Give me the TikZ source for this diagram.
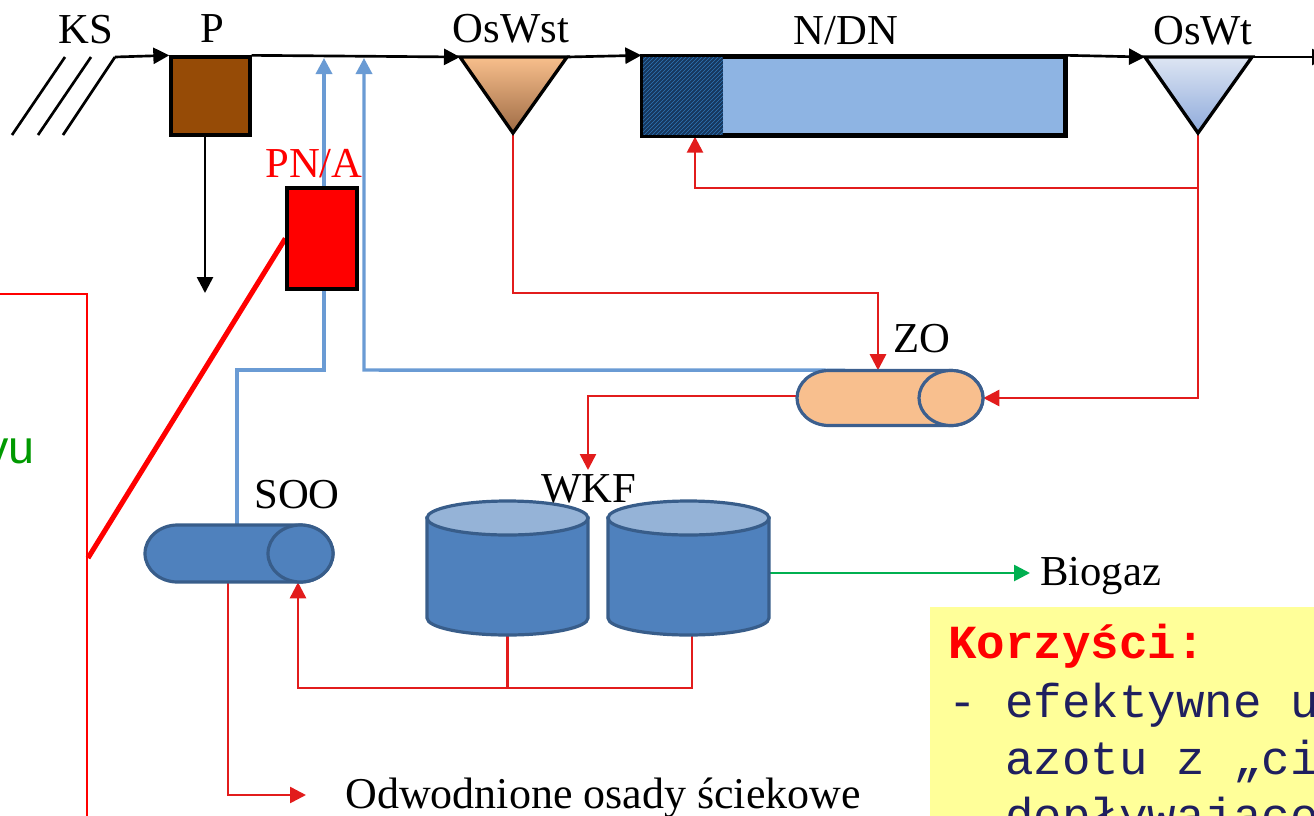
\documentclass[tikz,border=0pt]{standalone}
\usepackage{fontspec}
\setmainfont{Liberation Serif}
\newfontfamily\monofont{Liberation Mono}
\newfontfamily\sansf{Liberation Sans}
\usetikzlibrary{arrows.meta,patterns,calc}
\definecolor{cRed}{HTML}{E21C1C}
\definecolor{cBlue}{HTML}{6A9BD4}
\definecolor{cBrown}{HTML}{964B06}
\definecolor{cNDN}{HTML}{8EB4E3}
\definecolor{cNavy}{HTML}{17375E}
\definecolor{cHatch}{HTML}{2E75B6}
\definecolor{cPeach}{HTML}{F8BF8C}
\definecolor{cPeachD}{HTML}{9E6B45}
\definecolor{cSkyL}{HTML}{DDE5F3}
\definecolor{cSkyD}{HTML}{8EAADB}
\definecolor{cCylF}{HTML}{4F81BD}
\definecolor{cCylT}{HTML}{95B3D7}
\definecolor{cCylE}{HTML}{385D8A}
\definecolor{cZO}{HTML}{F8BF8E}
\definecolor{cZOE}{HTML}{3C5F8E}
\definecolor{cGreen}{HTML}{00B050}
\definecolor{cYel}{HTML}{FFFF99}
\definecolor{cText}{HTML}{1F1F5F}
\definecolor{cGreenT}{HTML}{009900}
\newdimen\upx \upx=0.75pt
\pgfdeclarelayer{bg}
\pgfsetlayers{bg,main}
\begin{document}
\begin{tikzpicture}[x=0.75pt,y=-0.75pt,
  lbl/.style={font=\fontsize{32}{38}\selectfont, inner sep=0pt, anchor=base},
  mono/.style={font=\monofont\fontsize{35.6}{42}\selectfont, text=cText, inner sep=0pt, anchor=base west},
  tip/.style={-{Triangle[width=12pt,length=12pt]}},
  flow/.style={line width=2pt, black, tip},
  redline/.style={line width=1.9pt, cRed},
  redflow/.style={redline, tip},
  blueflow/.style={line width=2.6pt, cBlue, tip},
  greenflow/.style={line width=2pt, cGreen, tip},
  box/.style={draw=black, line width=2.5pt, inner sep=0pt},
  cyl/.style={draw=cCylE, line width=2.4pt, fill=cCylF},
  holder/.style={inner sep=0pt, draw=none}
]
\clip (0,0) rectangle (1314,815);

% yellow box
\node[fill=cYel, inner sep=0pt, minimum width=400\upx, minimum height=230\upx, anchor=north west] (ybox) at (930,607) {};

% callout
\node[draw=red, line width=1.4pt, inner sep=0pt, minimum width=200\upx, minimum height=600\upx, anchor=north east] (call) at (88,293) {};
\node[font=\sansf\fontsize{35}{40}\selectfont, text=cGreenT, anchor=base east, inner sep=0pt] (vu) at (35,463) {vu};

% boxes
\node[box, fill=cBrown, minimum width=79\upx, minimum height=78\upx] (P) at (210.5,96) {};
\node[box, fill=red, minimum width=70\upx, minimum height=101\upx] (PNA) at (322,238.5) {};
\node[box, fill=cNDN, minimum width=422\upx, minimum height=78\upx] (NDN) at (854,96) {};
\fill[cNavy] (NDN.north west) rectangle (723,135);
\fill[pattern=north east lines, pattern color=cHatch] (NDN.north west) rectangle (723,135);
\draw[line width=2.5pt] (NDN.north west) rectangle (NDN.south east);

% triangles
\coordinate (owsL) at (460,57);
\coordinate (owsR) at (567,57);
\coordinate (owsT) at (513,133);
\coordinate (owtL) at (1145,57);
\coordinate (owtR) at (1252,57);
\coordinate (owtT) at (1198,133);
\draw[line width=2.5pt, top color=cPeach, bottom color=cPeachD, line join=miter] (owsL) -- (owsR) -- (owsT) -- cycle;
\draw[line width=2.5pt, top color=cSkyL, bottom color=cSkyD, line join=miter] (owtL) -- (owtR) -- (owtT) -- cycle;

% ZO cylinder (horizontal)
\node[holder, minimum width=186\upx, minimum height=55\upx] (ZO) at (890,398) {};
\path[draw=cZOE, line width=2.4pt, fill=cZO] (829,370.5) -- (951,370.5)
  arc[start angle=90,end angle=-90,x radius=24pt,y radius=20.625pt] -- (829,425.5)
  arc[start angle=270,end angle=90,x radius=24pt,y radius=20.625pt] -- cycle;
\draw[draw=cZOE, line width=2.4pt, fill=cZO] (951,398) ellipse [x radius=24pt, y radius=20.625pt];

% SOO cylinder (horizontal)
\node[holder, minimum width=188\upx, minimum height=57\upx] (SOO) at (239,553.5) {};
\path[cyl] (177.5,525) -- (300.5,525)
  arc[start angle=90,end angle=-90,x radius=24.375pt,y radius=21.375pt] -- (177.5,582)
  arc[start angle=270,end angle=90,x radius=24.375pt,y radius=21.375pt] -- cycle;
\draw[cyl] (300.5,553.5) ellipse [x radius=24.375pt, y radius=21.375pt];

% WKF cylinders (vertical)
\node[holder, minimum width=161\upx, minimum height=134\upx] (W1) at (507.5,568) {};
\node[holder, minimum width=161\upx, minimum height=134\upx] (W2) at (688.5,568) {};
\path[cyl] (427,518) -- (427,618) arc[start angle=180,end angle=360,x radius=60.375pt,y radius=12.75pt] -- (588,518) -- cycle;
\draw[cyl, fill=cCylT] (507.5,518) ellipse [x radius=60.375pt, y radius=12.75pt];
\path[cyl] (608,518) -- (608,618) arc[start angle=180,end angle=360,x radius=60.375pt,y radius=12.75pt] -- (769,518) -- cycle;
\draw[cyl, fill=cCylT] (688.5,518) ellipse [x radius=60.375pt, y radius=12.75pt];

% labels
\node[lbl] (tKS) at (86,43) {KS};
\node[lbl] (tP) at (212,42) {P};
\node[lbl] (tOsWst) at (511,42) {OsWst};
\node[lbl] (tNDN) at (846,44) {N/DN};
\node[lbl] (tOsWt) at (1203,44) {OsWt};
\node[lbl, text=red] (tPNA) at (314,177) {PN/A};
\node[lbl] (tZO) at (922,352) {ZO};
\node[lbl] (tWKF) at (589,502) {WKF};
\node[lbl] (tSOO) at (297,508) {SOO};
\node[lbl, anchor=base west] (tBio) at (1040,585) {Biogaz};
\node[lbl, anchor=base west, font=\fontsize{33}{38}\selectfont] (tOdw) at (345,808) {Odwodnione osady ściekowe};

% benefit text
\node[mono, text=red] (kor) at (948,658) {\bfseries Korzyści:};
\node[mono] (ln1) at (948,717) {- efektywne u};
\node[mono] (ln2) at (1005,774) {azotu z „ci};
\node[mono] (ln3) at (1005,831) {dopływającego};

% connectors
\coordinate (ks3) at (115,57);
\coordinate (outR) at (1328,57);
\coordinate (pEnd) at (205,293);
\coordinate (b1) at (324,58);
\coordinate (b2) at (364,58);
\coordinate (wkfIn) at (588,470);
\coordinate (odwIn) at (306,795);
\coordinate (bioIn) at (1030,573);
\begin{pgfonlayer}{bg}
\draw[line width=2pt] (12,135) -- (65,57);
\draw[line width=2pt] (38,135) -- (91,57);
\draw[line width=2pt] (63,135) -- (ks3);
\draw[flow] (ks3) -- (P.north west);
\draw[flow] (P.north east) -- (owsL);
\draw[flow] (owsR) -- (NDN.north west);
\draw[flow] (NDN.north east) -- (owtL);
\draw[flow] (owtR) -- (outR);
\draw[flow] (P.south -| pEnd) -- (pEnd);
\draw[blueflow] (SOO.north -| 237,0) |- (324,370) -- (b1);
\draw[blueflow] (ZO.north -| 845,0) -- (364,370) -- (b2);
\draw[redflow] (owsT) |- (878,293) -- (ZO.north -| 878,0);
\draw[redflow] (owtT) |- (695,188) -- (NDN.south -| 695,0);
\draw[redflow] (owtT) |- (ZO.east);
\draw[redflow] (ZO.west |- 0,396) -| (wkfIn);
\draw[redline] (W1.south) -- (W1.south |- 0,688);
\draw[redflow] (W2.south -| 692,0) |- (298,688) -- (SOO.south -| 298,0);
\draw[redflow] (SOO.south -| 228,0) |- (odwIn);
\draw[greenflow] (W2.east |- bioIn) -- (bioIn);
\draw[red, line width=3.8pt] (call.east |- 0,558) -- (PNA.west);
\end{pgfonlayer}
\end{tikzpicture}
\end{document}
